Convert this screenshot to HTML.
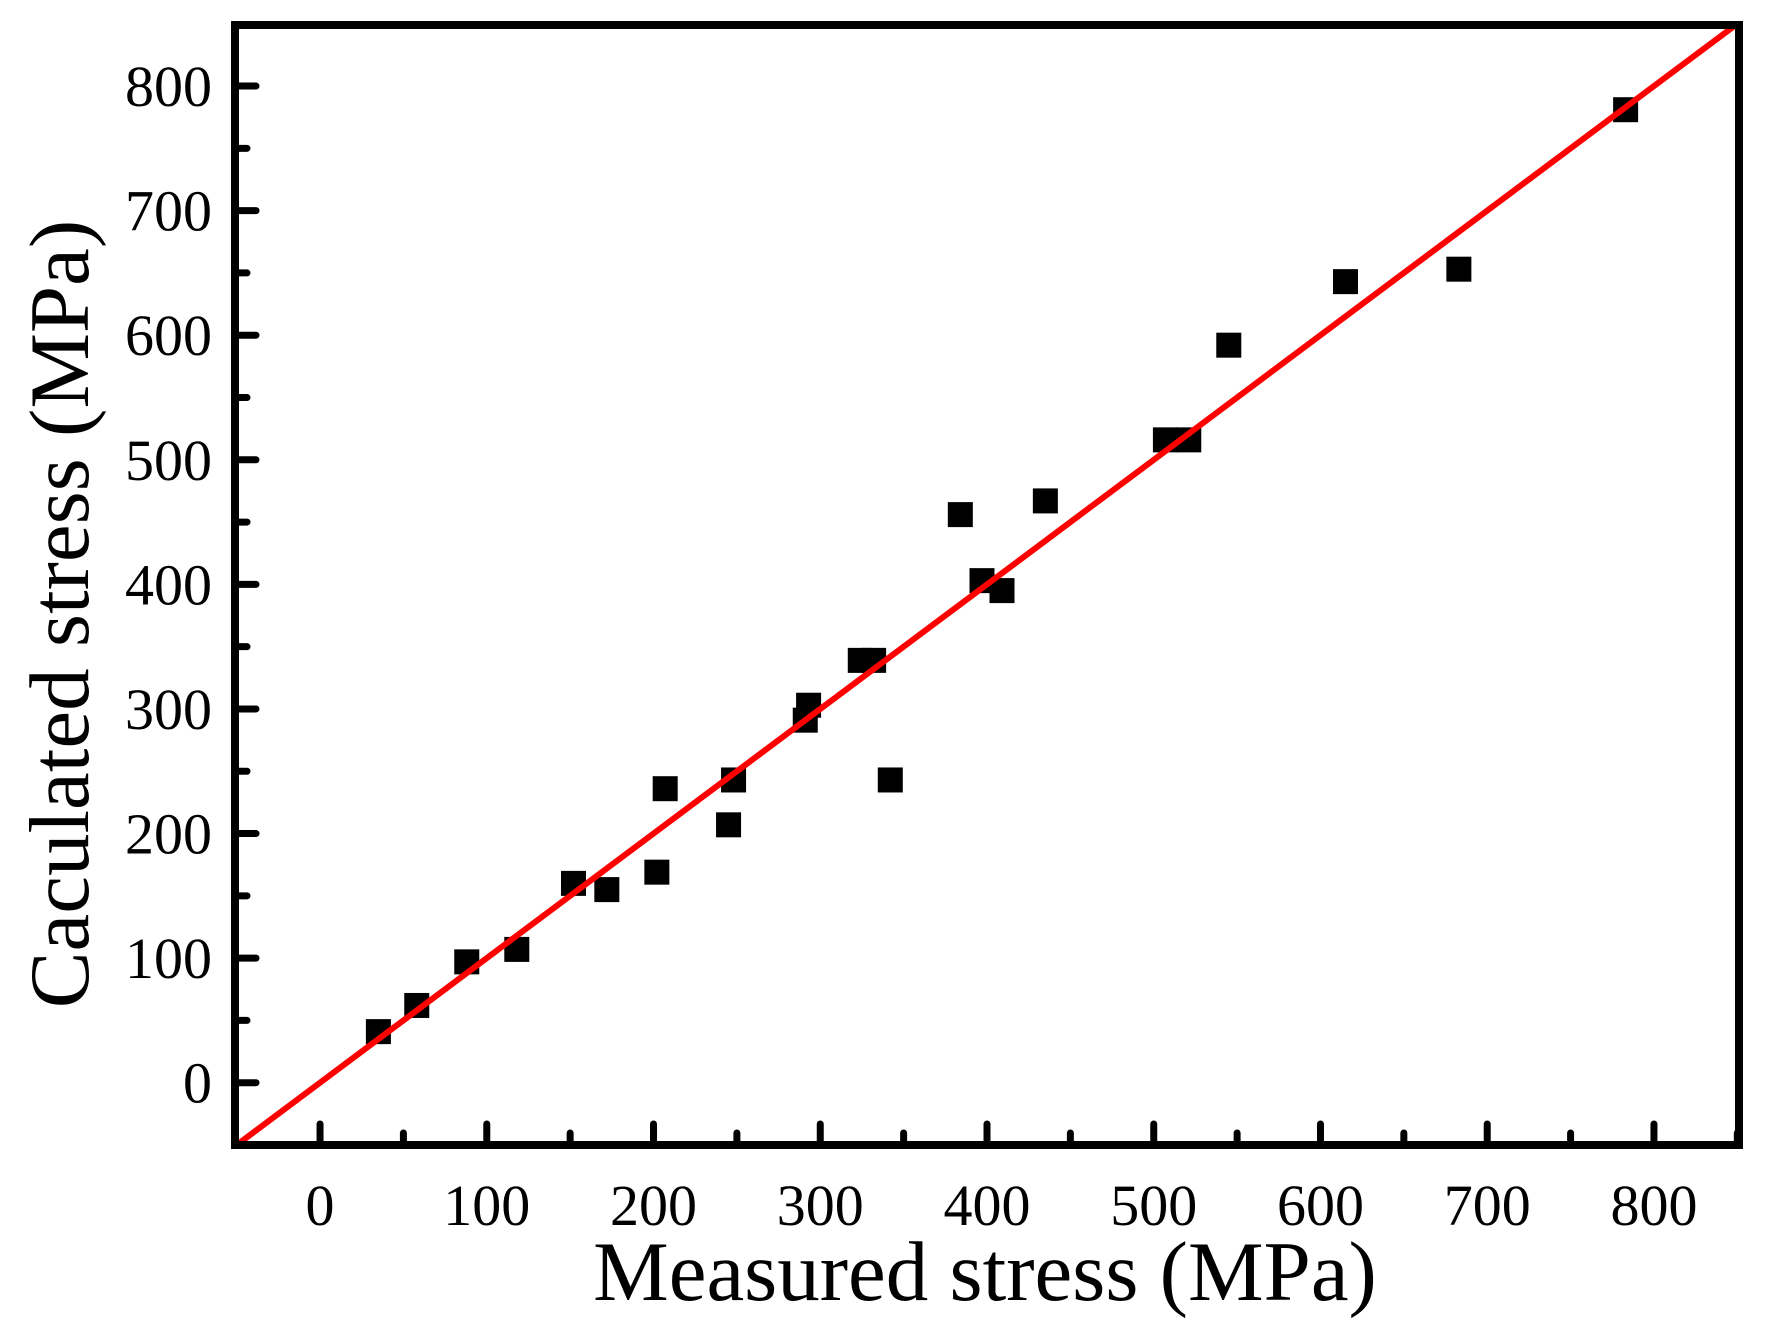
<!DOCTYPE html>
<html><head><meta charset="utf-8"><style>html,body{margin:0;padding:0;background:#fff}svg{display:block}</style></head>
<body>
<svg id="chart" width="1766" height="1335" viewBox="0 0 1766 1335" xmlns="http://www.w3.org/2000/svg" font-family="'Liberation Serif', serif">
<defs><clipPath id="plotclip"><rect x="235" y="25" width="1504" height="1120"/></clipPath></defs>
<g id="marks"></g>
<g id="axes"></g>
<text x="985" y="1300" font-size="85" text-anchor="middle">Measured stress (MPa)</text>
<text x="0" y="0" font-size="85" text-anchor="middle" transform="translate(88,614) rotate(-90)">Caculated stress (MPa)</text>
</svg>
<script>
const measured = [35,58,88,118,152,172,202,207,245,248,291,293,324,332,342,384,397,409,435,507,521,545,615,683,783];
const calculated = [41,62,97,107,160,155,169,236,207,243,291,303,339,339,243,456,403,395,467,516,516,592,643,653,781];
const xTicks = [0,100,200,300,400,500,600,700,800];
const yTicks = [0,100,200,300,400,500,600,700,800];
const fitLine = [-60,860];
const L=235,R=1739,T=25,B=1145,XMIN=-51,XMAX=851,YMIN=-50,YMAX=849;
const sx=v=>L+(v-XMIN)/(XMAX-XMIN)*(R-L);
const sy=v=>B-(v-YMIN)/(YMAX-YMIN)*(B-T);
const NS="http://www.w3.org/2000/svg";
function mk(tag,attrs,parent){const e=document.createElementNS(NS,tag);for(const k in attrs)e.setAttribute(k,attrs[k]);parent.appendChild(e);return e;}
const marks=document.getElementById('marks'),axes=document.getElementById('axes');
for(let i=0;i<measured.length;i++){
  const r=mk('rect',{x:sx(measured[i])-12.5,y:sy(calculated[i])-12.5,width:25,height:25,fill:'#000'},marks);
  
  
}
const ln=mk('line',{x1:sx(fitLine[0]),y1:sy(fitLine[0]),x2:sx(fitLine[1]),y2:sy(fitLine[1]),stroke:'#f00','stroke-width':6,'clip-path':'url(#plotclip)'},marks);


const fr=mk('rect',{x:L,y:T,width:R-L,height:B-T,fill:'none',stroke:'#000','stroke-width':8},axes);


for(const v of xTicks){
  const t=mk('line',{x1:sx(v),y1:B,x2:sx(v),y2:B-21,stroke:'#000','stroke-width':7,'stroke-linecap':'round'},axes);
  
  
  const tx=mk('text',{x:sx(v),y:1225,'font-size':58,'text-anchor':'middle'},axes);tx.textContent=v;
  
  
  if(v+50<XMAX){const m=mk('line',{x1:sx(v+50),y1:B,x2:sx(v+50),y2:B-12,stroke:'#000','stroke-width':7,'stroke-linecap':'round'},axes);
  
  }
}
for(const v of yTicks){
  const t=mk('line',{x1:L,y1:sy(v),x2:L+21,y2:sy(v),stroke:'#000','stroke-width':7,'stroke-linecap':'round'},axes);
  
  
  const tx=mk('text',{x:212,y:sy(v)+20,'font-size':58,'text-anchor':'end'},axes);tx.textContent=v;
  
  
  if(v+50<YMAX){const m=mk('line',{x1:L,y1:sy(v+50),x2:L+12,y2:sy(v+50),stroke:'#000','stroke-width':7,'stroke-linecap':'round'},axes);
  
  }
}
</script>
</body></html>
